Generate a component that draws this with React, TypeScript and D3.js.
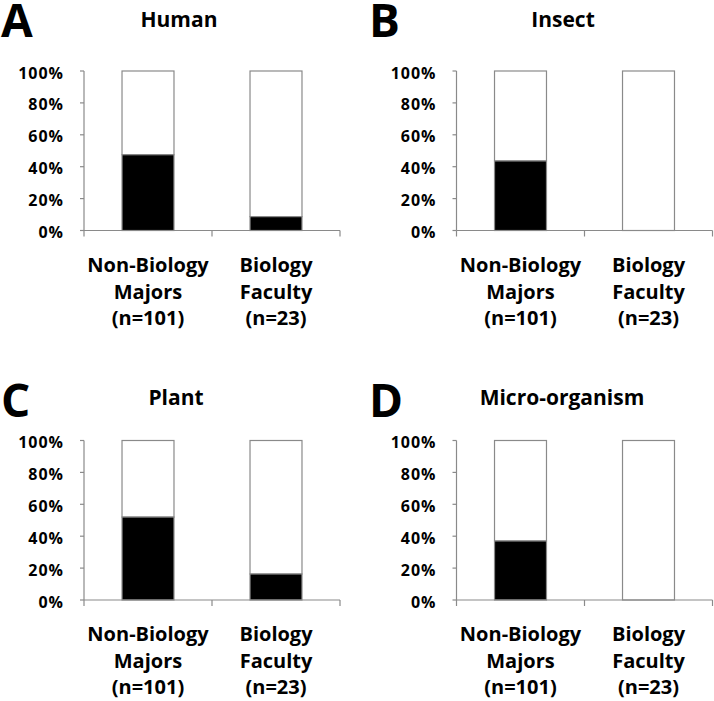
import React from "react";
import * as d3 from "d3";

const categories = ["Non-Biology Majors (n=101)", "Biology Faculty (n=23)"];
const categoryLines = [
  ["Non-Biology", "Majors", "(n=101)"],
  ["Biology", "Faculty", "(n=23)"],
];
const panelLetters = ["A", "B", "C", "D"];
const panelTitles = ["Human", "Insect", "Plant", "Micro-organism"];
const humanValues = [47.5, 8.7];
const insectValues = [43.6, 0];
const plantValues = [52, 16.3];
const microValues = [37, 0];
const yTicks = [0, 20, 40, 60, 80, 100];

const panelValues = [humanValues, insectValues, plantValues, microValues];

// layout
const axisLeft = [84, 456.5, 84, 456.5];
const plotTop = [71, 71, 440.5, 440.5];
const plotW = 256;
const plotH = 159.5;
const titleX = [179, 563, 176, 562];
const titleY = [27, 27, 405, 405];
const letterX = [1, 369, 1, 369];
const letterY = [37, 37, 417, 417];

const FONT = "'Open Sans', 'DejaVu Sans', sans-serif";
const GRAY = "#8a8a8a";

function Panel({ i }: { i: number }) {
  const x0 = axisLeft[i];
  const y0 = plotTop[i];
  const x = d3
    .scaleBand<string>()
    .domain(categories)
    .range([0, plotW])
    .paddingInner(0.594)
    .paddingOuter(0.297);
  const y = d3.scaleLinear().domain([0, 100]).range([plotH, 0]);
  const vals = panelValues[i];
  return (
    <g>
      <text
        x={letterX[i]}
        y={letterY[i]}
        fontFamily={FONT}
        fontWeight={700}
        fontSize={46}
        fill="#000"
      >
        {panelLetters[i]}
      </text>
      <text
        x={titleX[i]}
        y={titleY[i]}
        textAnchor="middle"
        fontFamily={FONT}
        fontWeight={700}
        fontSize={21}
        fill="#000"
      >
        {panelTitles[i]}
      </text>
      <g transform={`translate(${x0},${y0})`}>
        {categories.map((c, j) => {
          const bx = x(c)!;
          const bw = x.bandwidth();
          const v = vals[j];
          return (
            <g key={c}>
              <rect
                x={bx}
                y={y(100)}
                width={bw}
                height={y(v) - y(100)}
                fill="#fff"
                stroke={GRAY}
                strokeWidth={1.2}
              />
              {v > 0 && (
                <rect
                  x={bx}
                  y={y(v)}
                  width={bw}
                  height={y(0) - y(v)}
                  fill="#000"
                  stroke={GRAY}
                  strokeWidth={1.2}
                />
              )}
            </g>
          );
        })}
        {/* y axis */}
        <line x1={0} x2={0} y1={y(100)} y2={y(0)} stroke={GRAY} strokeWidth={1.2} />
        {yTicks.map((t) => (
          <g key={t}>
            <line x1={-4} x2={0} y1={y(t)} y2={y(t)} stroke={GRAY} strokeWidth={1.2} />
            <text
              x={-20}
              y={y(t) + 7.5}
              textAnchor="end"
              fontFamily={FONT}
              fontWeight={700}
              fontSize={16}
              letterSpacing={1}
              fill="#000"
            >
              {t + "%"}
            </text>
          </g>
        ))}
        {/* x axis */}
        <line x1={0} x2={plotW} y1={y(0)} y2={y(0)} stroke={GRAY} strokeWidth={1.2} />
        {[0, x.step(), plotW].map((tx, k) => (
          <line key={k} x1={tx} x2={tx} y1={y(0)} y2={y(0) + 6} stroke={GRAY} strokeWidth={1.2} />
        ))}
        {categories.map((c, j) => (
          <text
            key={c}
            x={x(c)! + x.bandwidth() / 2}
            y={y(0)}
            textAnchor="middle"
            fontFamily={FONT}
            fontWeight={700}
            fontSize={20}
            fill="#000"
          >
            {categoryLines[j].map((ln, k) => (
              <tspan key={k} x={x(c)! + x.bandwidth() / 2} y={y(0) + [41, 68, 94][k]}>
                {ln}
              </tspan>
            ))}
          </text>
        ))}
      </g>
    </g>
  );
}

export default function App() {
  return (
    <svg
      width={714}
      height={701}
      style={{ position: "absolute", left: 0, top: 0, background: "#fff" }}
    >
      <rect width={714} height={701} fill="#fff" />
      {[0, 1, 2, 3].map((i) => (
        <Panel key={i} i={i} />
      ))}
    </svg>
  );
}
